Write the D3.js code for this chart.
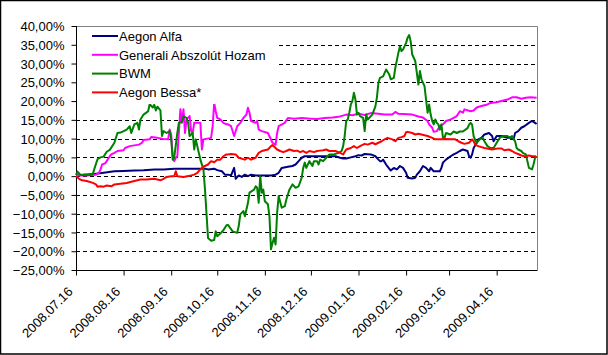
<!DOCTYPE html>
<html><head><meta charset="utf-8">
<script src="https://cdn.jsdelivr.net/npm/d3@7"></script>
<style>
body{margin:0;background:#fff}
svg{display:block}
text{font-family:"Liberation Sans",Arial,sans-serif;font-size:13px;fill:#000}
</style>
</head><body>
<svg id="c" width="608" height="355"></svg>
<script>
const seriesNames = ["Aegon Alfa", "Generali Abszolút Hozam", "BWM", "Aegon Bessa*"];
const seriesColors = ["#000080", "#ff00ff", "#008000", "#ff0000"];

const alfaDates = ["2008-07-16","2008-07-21","2008-07-28","2008-08-03","2008-08-10","2008-08-16","2008-08-23","2008-08-29","2008-09-05","2008-09-11","2008-09-18","2008-10-01","2008-10-08","2008-10-10","2008-10-14","2008-10-16","2008-10-19","2008-10-21","2008-10-23","2008-10-25","2008-10-27","2008-10-28","2008-10-30","2008-11-01","2008-11-03","2008-11-05","2008-11-07","2008-11-10","2008-11-20","2008-11-23","2008-11-25","2008-11-27","2008-12-01","2008-12-04","2008-12-06","2008-12-08","2008-12-10","2008-12-12","2008-12-19","2008-12-27","2009-01-01","2009-01-04","2009-01-06","2009-01-08","2009-01-11","2009-01-14","2009-01-16","2009-01-18","2009-01-20","2009-01-24","2009-01-27","2009-01-29","2009-01-30","2009-01-31","2009-02-01","2009-02-03","2009-02-06","2009-02-08","2009-02-10","2009-02-12","2009-02-14","2009-02-16","2009-02-17","2009-02-20","2009-02-22","2009-02-23","2009-02-25","2009-02-27","2009-03-01","2009-03-03","2009-03-04","2009-03-06","2009-03-10","2009-03-11","2009-03-12","2009-03-14","2009-03-17","2009-03-19","2009-03-21","2009-03-23","2009-03-25","2009-03-28","2009-03-29","2009-03-30","2009-03-31","2009-04-01","2009-04-03","2009-04-04","2009-04-06","2009-04-08","2009-04-11","2009-04-13","2009-04-14","2009-04-16","2009-04-19","2009-04-23","2009-04-25","2009-04-27","2009-04-28","2009-04-30","2009-05-02","2009-05-04","2009-05-07","2009-05-09","2009-05-11","2009-05-12"];
const alfaValues = [0.2,0.4,0.6,0.9,1.3,1.4,1.5,1.6,1.8,1.8,2.0,2.0,2.0,1.8,2.0,1.6,1.3,0.4,0.4,0.2,2.2,-0.7,0.2,-0.2,0.4,0.0,0.4,0.2,0.2,0.4,0.9,2.2,2.5,2.7,3.1,4.0,4.9,5.3,5.3,5.3,5.3,4.9,4.7,4.7,5.0,5.3,5.6,5.5,5.9,5.8,5.3,4.4,4.0,4.0,4.4,3.1,1.5,2.2,1.8,2.7,2.2,0.9,-0.4,-0.6,-0.4,0.4,1.3,2.7,2.2,1.3,2.2,1.3,1.3,2.2,3.6,4.4,5.3,5.8,6.2,6.7,7.1,6.7,5.3,4.9,5.8,7.5,8.9,9.8,10.2,11.1,11.5,10.7,9.3,10.7,10.7,10.2,10.2,9.8,11.5,12.0,12.9,13.3,14.2,14.7,14.2,13.9];

const generaliDates = ["2008-07-16","2008-07-23","2008-07-29","2008-07-31","2008-08-01","2008-08-02","2008-08-04","2008-08-05","2008-08-07","2008-08-08","2008-08-10","2008-08-12","2008-08-16","2008-08-17","2008-08-20","2008-08-26","2008-08-28","2008-08-29","2008-09-02","2008-09-03","2008-09-07","2008-09-11","2008-09-14","2008-09-15","2008-09-16","2008-09-17","2008-09-18","2008-09-19","2008-09-20","2008-09-22","2008-09-23","2008-09-24","2008-09-25","2008-09-26","2008-09-28","2008-09-29","2008-09-30","2008-10-01","2008-10-05","2008-10-06","2008-10-07","2008-10-12","2008-10-13","2008-10-14","2008-10-15","2008-10-16","2008-10-18","2008-10-20","2008-10-22","2008-10-23","2008-10-25","2008-10-27","2008-10-29","2008-10-31","2008-11-02","2008-11-04","2008-11-05","2008-11-06","2008-11-07","2008-11-10","2008-11-11","2008-11-12","2008-11-14","2008-11-18","2008-11-21","2008-11-23","2008-11-24","2008-11-25","2008-11-29","2008-11-30","2008-12-01","2008-12-05","2008-12-10","2008-12-16","2008-12-20","2008-12-25","2008-12-30","2009-01-03","2009-01-08","2009-01-12","2009-01-16","2009-01-20","2009-01-24","2009-01-29","2009-02-02","2009-02-07","2009-02-09","2009-02-11","2009-02-20","2009-02-24","2009-02-27","2009-03-02","2009-03-03","2009-03-05","2009-03-06","2009-03-08","2009-03-10","2009-03-12","2009-03-14","2009-03-17","2009-03-19","2009-03-21","2009-03-23","2009-03-25","2009-03-26","2009-03-30","2009-04-01","2009-04-03","2009-04-06","2009-04-10","2009-04-12","2009-04-16","2009-04-19","2009-04-23","2009-04-26","2009-04-29","2009-05-02","2009-05-05","2009-05-08","2009-05-12"];
const generaliValues = [0.2,0.2,0.4,0.9,1.8,3.1,3.4,4.0,5.3,5.8,6.2,6.7,6.9,7.5,8.0,8.4,8.9,9.6,9.8,10.4,10.2,9.9,9.8,12.4,11.1,5.3,4.0,4.9,5.3,17.8,14.2,17.8,11.5,15.1,16.0,12.0,11.5,14.2,14.2,7.1,9.8,10.2,13.3,19.5,17.3,15.5,15.1,14.2,13.8,13.8,13.3,10.7,13.3,14.2,15.5,16.4,18.2,16.9,14.7,14.2,14.7,12.4,12.0,11.5,8.9,8.4,11.5,13.3,14.2,14.9,15.5,15.3,15.5,15.3,15.2,15.5,15.6,15.8,16.4,16.2,16.6,16.3,16.8,16.6,16.4,16.4,17.1,16.6,16.4,15.9,15.6,14.7,13.8,12.9,11.8,12.0,13.3,13.8,14.7,15.1,15.5,16.0,17.3,16.9,17.8,17.3,17.5,18.3,18.7,19.1,19.5,19.7,20.0,20.4,21.0,21.0,20.6,20.9,21.0,20.9];

const bwmDates = ["2008-07-16","2008-07-17","2008-07-19","2008-07-22","2008-07-25","2008-07-27","2008-07-28","2008-07-30","2008-08-01","2008-08-03","2008-08-05","2008-08-07","2008-08-10","2008-08-12","2008-08-14","2008-08-16","2008-08-18","2008-08-20","2008-08-21","2008-08-23","2008-08-25","2008-08-26","2008-08-27","2008-08-29","2008-08-31","2008-09-01","2008-09-02","2008-09-04","2008-09-05","2008-09-06","2008-09-07","2008-09-09","2008-09-10","2008-09-11","2008-09-13","2008-09-15","2008-09-16","2008-09-17","2008-09-18","2008-09-20","2008-09-21","2008-09-23","2008-09-24","2008-09-26","2008-09-27","2008-09-28","2008-09-30","2008-10-01","2008-10-02","2008-10-04","2008-10-05","2008-10-07","2008-10-08","2008-10-09","2008-10-10","2008-10-12","2008-10-14","2008-10-15","2008-10-16","2008-10-18","2008-10-20","2008-10-22","2008-10-23","2008-10-26","2008-10-29","2008-10-30","2008-10-31","2008-11-02","2008-11-03","2008-11-05","2008-11-06","2008-11-09","2008-11-10","2008-11-11","2008-11-12","2008-11-13","2008-11-14","2008-11-15","2008-11-16","2008-11-18","2008-11-19","2008-11-20","2008-11-21","2008-11-22","2008-11-23","2008-11-24","2008-11-25","2008-11-27","2008-11-29","2008-11-30","2008-12-02","2008-12-04","2008-12-06","2008-12-08","2008-12-10","2008-12-11","2008-12-12","2008-12-13","2008-12-15","2008-12-17","2008-12-18","2008-12-20","2008-12-21","2008-12-22","2008-12-24","2008-12-26","2008-12-28","2008-12-31","2009-01-03","2009-01-05","2009-01-06","2009-01-07","2009-01-08","2009-01-09","2009-01-10","2009-01-11","2009-01-12","2009-01-13","2009-01-14","2009-01-15","2009-01-16","2009-01-17","2009-01-19","2009-01-20","2009-01-21","2009-01-22","2009-01-25","2009-01-27","2009-01-28","2009-01-29","2009-01-30","2009-02-01","2009-02-03","2009-02-05","2009-02-06","2009-02-08","2009-02-09","2009-02-11","2009-02-12","2009-02-13","2009-02-14","2009-02-16","2009-02-17","2009-02-18","2009-02-19","2009-02-20","2009-02-22","2009-02-23","2009-02-24","2009-02-25","2009-02-26","2009-02-28","2009-03-01","2009-03-02","2009-03-03","2009-03-04","2009-03-05","2009-03-06","2009-03-07","2009-03-08","2009-03-09","2009-03-10","2009-03-11","2009-03-12","2009-03-13","2009-03-14","2009-03-17","2009-03-19","2009-03-21","2009-03-23","2009-03-25","2009-03-28","2009-03-29","2009-03-30","2009-03-31","2009-04-01","2009-04-02","2009-04-03","2009-04-05","2009-04-07","2009-04-08","2009-04-10","2009-04-12","2009-04-14","2009-04-16","2009-04-18","2009-04-20","2009-04-23","2009-04-25","2009-04-26","2009-04-28","2009-04-29","2009-04-30","2009-05-02","2009-05-03","2009-05-05","2009-05-07","2009-05-09","2009-05-10","2009-05-11","2009-05-12"];
const bwmValues = [0.3,1.2,0.3,0.4,0.3,0.6,2.0,4.5,5.0,5.2,6.5,7.0,8.9,11.5,11.6,12.0,12.4,13.3,11.5,13.8,14.2,12.4,15.1,16.4,17.0,17.3,19.2,18.3,19.0,17.5,18.5,17.5,10.7,12.0,11.5,12.0,9.8,4.4,5.0,11.5,14.2,14.5,15.9,15.5,14.2,10.7,11.5,7.1,9.8,6.2,4.4,1.8,-3.5,-10.0,-16.5,-17.2,-17.0,-14.7,-16.0,-15.3,-14.4,-13.1,-13.0,-14.7,-15.1,-13.3,-10.2,-9.3,-10.7,-7.1,-4.4,-3.6,-2.7,-3.1,-7.1,0.0,-4.4,-3.6,-6.7,-7.5,-10.7,-19.5,-17.8,-16.4,-18.2,-9.8,-5.3,-8.4,-8.0,-6.2,-3.6,-2.2,-3.1,-2.7,-0.4,2.2,3.6,2.2,4.0,2.7,4.0,4.0,3.1,4.4,4.0,4.9,5.8,5.8,6.2,6.7,8.0,10.7,14.7,15.1,16.9,19.1,20.0,22.2,20.4,16.4,16.9,16.0,15.5,12.0,16.4,15.1,16.4,18.6,21.0,24.9,26.2,26.6,28.4,27.1,25.8,26.2,28.9,32.9,34.6,33.3,33.7,35.5,36.9,37.6,35.9,32.4,30.6,27.5,24.4,28.0,25.8,24.0,20.4,16.9,19.1,16.4,14.7,13.8,15.1,14.2,13.8,12.4,13.8,10.2,10.2,11.5,11.1,11.9,11.5,11.9,11.9,12.8,13.7,14.2,13.7,10.6,9.7,8.9,9.8,10.2,9.3,8.0,7.5,7.5,8.9,10.2,10.7,10.7,10.2,10.7,9.3,7.5,7.1,6.7,6.2,5.8,2.2,1.8,3.1,4.9,5.3];

const bessaDates = ["2008-07-16","2008-07-18","2008-07-20","2008-07-23","2008-07-27","2008-07-29","2008-07-30","2008-08-01","2008-08-03","2008-08-05","2008-08-08","2008-08-10","2008-08-14","2008-08-18","2008-08-23","2008-08-27","2008-08-31","2008-09-05","2008-09-07","2008-09-09","2008-09-11","2008-09-13","2008-09-16","2008-09-18","2008-09-19","2008-09-20","2008-09-24","2008-09-29","2008-10-01","2008-10-03","2008-10-05","2008-10-07","2008-10-10","2008-10-12","2008-10-14","2008-10-16","2008-10-18","2008-10-20","2008-10-22","2008-10-23","2008-10-25","2008-10-28","2008-10-30","2008-11-03","2008-11-05","2008-11-07","2008-11-10","2008-11-12","2008-11-14","2008-11-16","2008-11-18","2008-11-20","2008-11-21","2008-11-24","2008-11-26","2008-11-28","2008-11-30","2008-12-02","2008-12-05","2008-12-07","2008-12-09","2008-12-11","2008-12-13","2008-12-15","2008-12-18","2008-12-20","2008-12-22","2008-12-24","2008-12-26","2008-12-28","2009-01-01","2009-01-04","2009-01-06","2009-01-08","2009-01-11","2009-01-13","2009-01-15","2009-01-17","2009-01-20","2009-01-22","2009-01-25","2009-01-27","2009-01-29","2009-01-31","2009-02-02","2009-02-04","2009-02-07","2009-02-09","2009-02-11","2009-02-13","2009-02-15","2009-02-16","2009-02-17","2009-02-20","2009-02-22","2009-02-24","2009-02-26","2009-02-28","2009-03-02","2009-03-05","2009-03-07","2009-03-11","2009-03-13","2009-03-18","2009-03-20","2009-03-22","2009-03-24","2009-03-26","2009-03-29","2009-03-31","2009-04-01","2009-04-02","2009-04-04","2009-04-08","2009-04-13","2009-04-17","2009-04-19","2009-04-21","2009-04-24","2009-04-26","2009-04-28","2009-04-30","2009-05-02","2009-05-04","2009-05-07","2009-05-09","2009-05-11","2009-05-12"];
const bessaValues = [0.0,-0.7,-1.1,-1.3,-1.8,-2.2,-2.8,-2.7,-2.8,-2.5,-2.7,-2.2,-2.0,-1.8,-1.3,-0.9,-0.9,-0.7,-0.9,-1.1,-0.7,-0.2,0.0,0.0,1.3,0.0,-0.2,0.2,0.4,0.9,1.8,2.5,3.1,4.0,3.7,4.4,4.4,5.3,5.8,5.8,5.9,5.8,4.9,4.4,4.9,4.4,4.9,6.2,6.7,6.9,7.1,8.0,8.3,7.1,6.7,6.4,6.7,7.1,6.7,6.8,6.4,6.7,6.2,6.7,6.4,6.7,6.8,6.9,7.1,6.7,6.7,6.2,5.8,7.1,7.5,8.0,7.5,8.0,8.6,8.4,8.9,8.5,8.9,9.3,9.8,10.2,9.8,9.3,10.2,10.4,10.7,11.7,11.8,11.5,11.1,11.3,11.1,10.9,10.7,10.2,9.8,9.8,9.9,9.8,9.8,9.3,8.9,8.6,8.9,9.8,9.3,8.4,8.0,7.5,7.1,7.4,7.4,6.9,7.1,6.7,6.2,5.9,5.5,5.3,5.5,5.3,5.3,4.9];

const yTickValues = [-25,-20,-15,-10,-5,0,5,10,15,20,25,30,35,40];
const xTickDates = ["2008-07-16","2008-08-16","2008-09-16","2008-10-16","2008-11-16","2008-12-16","2009-01-16","2009-02-16","2009-03-16","2009-04-16"];
const xDomainDates = ["2008-07-16","2009-05-12"];

const parse = d3.timeParse("%Y-%m-%d");
const L = 76, R = 536.6, PR = 537.5, T = 26, B = 270;
const x = d3.scaleTime().domain(xDomainDates.map(parse)).range([L, R]);
const y = d3.scaleLinear().domain([-25, 40]).range([B, T]);

const svg = d3.select("#c");
svg.append("rect").attr("x",0.5).attr("y",0.5).attr("width",606.5).attr("height",353.5)
  .attr("fill","#fff").attr("stroke","#000").attr("stroke-width",1.5);

// gridlines
svg.append("g").selectAll("line").data(yTickValues.filter(v => v > -25 && v < 40)).join("line")
  .attr("x1", L).attr("x2", PR).attr("y1", d => Math.round(y(d)) + 0.5).attr("y2", d => Math.round(y(d)) + 0.5)
  .attr("stroke", "#000").attr("stroke-width", 1).attr("stroke-dasharray", "4,3");

// plot border top/right
svg.append("path").attr("d", `M${L},${T+0.5}H${PR}V${B}`).attr("fill","none").attr("stroke","#808080").attr("stroke-width",1);

const fmt = v => d3.format(".2f")(v).replace(".", ",") + "%";
const yAxis = svg.append("g").attr("transform", `translate(${L+0.5},0)`)
  .call(d3.axisLeft(y).tickValues(yTickValues).tickSize(5).tickFormat(fmt));
yAxis.select(".domain").attr("stroke","#000").attr("d", `M0,${T}V${B}`);
yAxis.selectAll(".tick line").attr("stroke","#000");
yAxis.selectAll(".tick text").attr("x", -12).attr("dy", "0.36em")
  .style("font-family", '"Liberation Sans",Arial,sans-serif').style("font-size","13px").attr("fill","#000");

const xAxis = svg.append("g").attr("transform", `translate(0,${B+0.5})`)
  .call(d3.axisBottom(x).tickValues(xTickDates.map(parse)).tickSize(5).tickFormat(d3.timeFormat("%Y.%m.%d")));
xAxis.select(".domain").attr("stroke","#000").attr("d", `M${L},0H${PR}`);
xAxis.selectAll(".tick line").attr("stroke","#000");
xAxis.selectAll(".tick text")
  .attr("text-anchor","end").attr("x", null).attr("y", null).attr("dy", null)
  .attr("transform","translate(-3,22) rotate(-45)")
  .style("font-family", '"Liberation Sans",Arial,sans-serif').style("font-size","13px").attr("fill","#000");

// series
const series = [
  {dates: alfaDates, values: alfaValues},
  {dates: generaliDates, values: generaliValues},
  {dates: bwmDates, values: bwmValues},
  {dates: bessaDates, values: bessaValues}
];
const line = d3.line().x(d => x(d[0])).y(d => y(d[1]));
series.forEach((s, i) => {
  const pts = s.dates.map((d, j) => [parse(d), s.values[j]]);
  svg.append("path").datum(pts).attr("d", line).attr("fill","none")
    .attr("stroke", seriesColors[i]).attr("stroke-width", 2).attr("stroke-linejoin","round");
});

// legend
const lg = svg.append("g");
lg.append("rect").attr("x", L + 1).attr("y", 28).attr("width", 201).attr("height", 76).attr("fill", "#fff");
seriesNames.forEach((n, i) => {
  const cy = 36 + i * 18.8;
  lg.append("line").attr("x1", 92).attr("x2", 118).attr("y1", cy).attr("y2", cy)
    .attr("stroke", seriesColors[i]).attr("stroke-width", 2);
  lg.append("text").attr("x", 119).attr("y", cy + 4.7).text(n);
});
</script>
</body></html>
